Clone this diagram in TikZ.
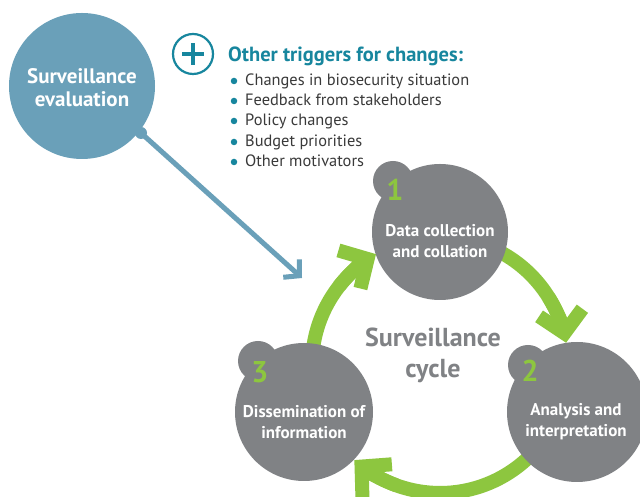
\documentclass[tikz,border=0pt]{standalone}
\usepackage{fontspec}
\setmainfont{PT Sans}
\usetikzlibrary{arrows.meta}
\definecolor{evalblue}{HTML}{6AA0B9}
\definecolor{tealc}{HTML}{17869E}
\definecolor{cyclegray}{HTML}{808285}
\definecolor{cyclegreen}{HTML}{8DC63F}
\definecolor{textdark}{HTML}{3A3A3A}
\begin{document}
\begin{tikzpicture}[x=1pt,y=1pt,
  disc/.style={circle, inner sep=0pt, minimum size=#1},
  steplabel/.style={text=white, font=\bfseries\fontsize{17}{21}\selectfont, align=center},
  stepnum/.style={text=cyclegreen, font=\bfseries\fontsize{30}{30}\selectfont},
  bullettext/.style={anchor=base west, inner sep=0pt, text=textdark, font=\fontsize{16.4}{18}\selectfont},
  bulletdot/.style={circle, fill=tealc, inner sep=0pt, minimum size=6.5},
  greenarc/.style={cyclegreen, line width=14},
  greentip/.style={cyclegreen, line width=14, -{Straight Barb[length=21pt,width=44pt]}}
]
\useasboundingbox (0,0) rectangle (640,497);
\clip (0,0) rectangle (640,497);
\fill[white] (0,0) rectangle (640,497);

% surveillance evaluation
\node[disc=146, fill=evalblue] (eval) at (82,411) {};
\node[disc=12, fill=evalblue] (evalknob) at (141,364) {};
\coordinate (evaltip) at (302,219);
\draw[evalblue, line width=5, -{Straight Barb[length=11pt,width=24pt]}] (evalknob.center) -- (evaltip);
\node[text=white, font=\bfseries\fontsize{21}{23}\selectfont, align=center] (evaltext) at (82,409) {Surveillance\\evaluation};

% other triggers
\node[circle, draw=tealc, line width=2.2, minimum size=40, inner sep=0pt] (plus) at (193,443) {};
\draw[tealc, line width=4] ([xshift=-11]plus.center) -- ([xshift=11]plus.center);
\draw[tealc, line width=4] ([yshift=-11]plus.center) -- ([yshift=11]plus.center);
\node[anchor=base west, inner sep=0pt, text=tealc, font=\bfseries\fontsize{20.5}{22}\selectfont] (title) at (228,435) {Other triggers for changes:};
\foreach \t/\y [count=\i] in {Changes in biosecurity situation/411, Feedback from stakeholders/391, Policy changes/371, Budget priorities/350, Other motivators/330}{
  \node[bullettext] (item\i) at (245,\y) {\t};
  \node[bulletdot] (dot\i) at (234,\y+5) {};
}

% cycle ring shafts
\coordinate (ring) at (440,132);
\draw[greenarc] ([shift={(ring)}]78:128) arc[start angle=78, end angle=20, radius=128];
\draw[greenarc] ([shift={(ring)}]-22:128) arc[start angle=-22, end angle=-122, radius=128];
\draw[greenarc] ([shift={(ring)}]192:128) arc[start angle=192, end angle=130, radius=128];

% step circles
\node[disc=136, fill=cyclegray] (c1) at (440,265) {};
\node[disc=40, fill=cyclegray] (c1bump) at (393,316) {};
\node[disc=140, fill=cyclegray] (c2) at (577,85) {};
\node[disc=40, fill=cyclegray] (c2bump) at (528,132) {};
\node[disc=138, fill=cyclegray] (c3) at (304,85) {};
\node[disc=40, fill=cyclegray] (c3bump) at (258,136) {};

% arrow tips
\draw[greentip] ([shift={(ring)}]32:128) arc[start angle=32, end angle=10, radius=128];
\draw[greentip] ([shift={(ring)}]-110:128) arc[start angle=-110, end angle=-132, radius=128];
\draw[greentip] ([shift={(ring)}]142:128) arc[start angle=142, end angle=120, radius=128];

% labels
\node[stepnum] (n1) at (395,307) {1};
\node[stepnum] (n2) at (530,126) {2};
\node[stepnum] (n3) at (260,125) {3};
\node[steplabel] (t1) at (440,256) {Data collection\\and collation};
\node[steplabel] (t2) at (576,75) {Analysis and\\interpretation};
\node[steplabel] (t3) at (304,75) {Dissemination of\\information};
\node[text=cyclegray, font=\bfseries\fontsize{26}{31}\selectfont, align=center] (cycle) at (433,142) {Surveillance\\cycle};
\end{tikzpicture}
\end{document}
